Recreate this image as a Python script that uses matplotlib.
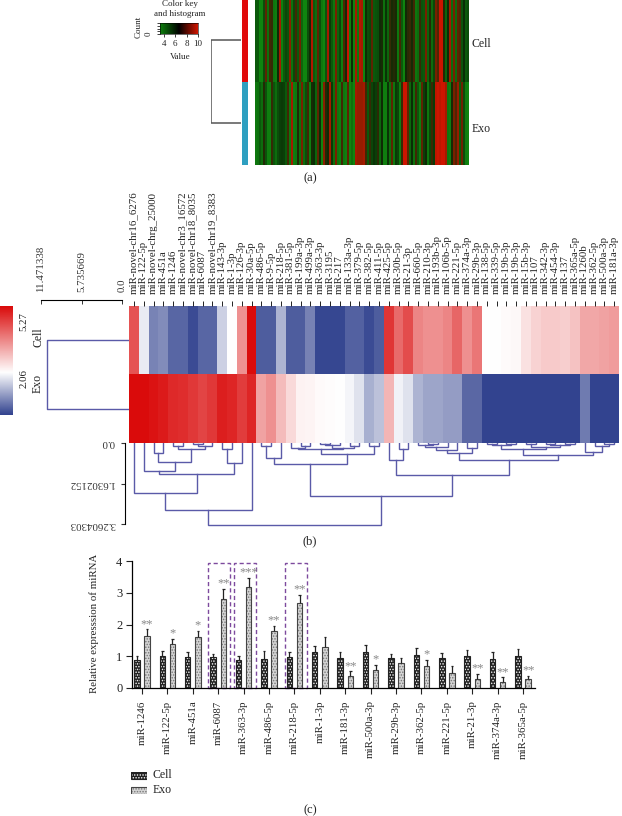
import numpy as np
import matplotlib
matplotlib.use("Agg")
import matplotlib.pyplot as plt
from matplotlib.colors import LinearSegmentedColormap, TwoSlopeNorm
from matplotlib.patches import Rectangle

plt.rcParams['font.family'] = ['Liberation Serif', 'DejaVu Serif']
plt.rcParams['hatch.linewidth'] = 0.7

cell_a = [5.0,5.0,3.6,3.6,5.4,8.0,4.2,7.6,7.4,4.0,
          3.8,6.6,9.0,3.8,5.0,5.6,5.2,8.6,4.2,5.6,
          7.6,5.0,8.2,4.6,3.6,3.6,5.4,6.6,9.2,5.0,
          4.4,8.0,5.4,4.0,3.6,5.2,9.0,6.0,5.0,4.0,
          8.4,4.6,5.6,3.8,7.8,6.8,9.6,3.8,6.4,3.6,
          9.0,4.0,9.2,9.0,3.6,6.4,5.4,5.6,8.0,5.0,
          5.2,5.4,6.6,6.8,4.2,6.2,4.6,7.4,6.8,7.0,
          6.8,4.0,7.6,5.0,3.6,6.6,7.2,7.4,6.8,7.6,
          4.0,4.4,7.4,5.2,5.0,8.4,4.6,7.0,4.4,5.6,
          8.4,7.8,9.6,9.6,7.0,4.6,6.6,9.0,4.4,8.4,
          4.4,8.0,7.8,5.2,6.4,5.0,5.4]
exo_a = [4.0,4.2,5.0,4.4,7.0,5.2,3.8,3.8,7.4,5.2,
         4.4,5.4,5.8,6.0,5.8,5.0,7.6,4.0,9.0,3.8,
         4.0,7.0,4.2,8.4,4.4,5.4,7.6,3.8,6.8,6.4,
         4.6,8.0,6.4,3.6,8.6,7.0,6.6,9.0,6.0,4.2,
         8.4,4.0,3.8,7.6,4.0,3.8,8.0,3.6,4.2,3.6,
         9.0,8.8,8.8,8.8,9.0,7.6,5.0,7.4,5.6,6.2,
         5.8,7.2,4.6,6.6,3.8,3.8,6.2,4.2,8.0,4.0,
         6.0,5.6,3.8,7.4,9.6,9.6,8.0,4.6,6.4,4.2,
         7.6,5.0,3.8,8.0,5.8,6.6,4.0,5.6,7.4,6.0,
         9.4,9.6,9.4,9.8,9.6,9.0,4.0,3.8,6.8,8.4,
         7.8,8.8,5.0,8.2,5.4,3.8,3.6]

# panel b
mirna_b = ['miR-novel-chr16_6276','miR-122-5p','miR-novel-chrg_25000','miR-451a','miR-1246',
           'miR-novel-chr3_16572','miR-novel-chr18_8035','miR-6087','miR-novel-chr19_8383','miR-143-3p',
           'miR-1-3p','miR-126-3p','miR-30a-5p','miR-486-5p','miR-9-5p','miR-218-5p','miR-381-5p',
           'miR-199a-3p','miR-499a-3p','miR-363-3p','miR-3195','miR-217','miR-133a-3p','miR-379-5p',
           'miR-382-5p','miR-411-5p','miR-425-5p','miR-30b-5p','miR-21-3p','miR-660-5p','miR-210-3p',
           'miR-193b-3p','miR-106b-5p','miR-221-5p','miR-374a-3p','miR-29b-3p','miR-138-5p','miR-339-5p',
           'miR-19b-3p','miR-19b-3p','miR-15b-3p','miR-107','miR-342-3p','miR-454-3p','miR-137',
           'miR-365a-5p','miR-1260b','miR-362-5p','miR-500a-3p','miR-181a-3p']
cell_b = [4.3,1.85,.72,.82,.4,.4,.1,.4,.4,1.55,2.06,3.5,5.27,.3,.3,1.25,.3,.3,.7,.05,
          .05,.05,.35,.35,.1,.3,4.7,4.0,4.4,3.65,3.5,3.5,3.65,4.05,3.5,3.85,2.06,2.06,2.12,2.16,
          2.45,2.65,2.76,2.76,2.7,2.86,3.2,3.2,3.28,3.34]
exo_b = [5.27,5.27,5.15,5.05,4.85,4.8,4.65,4.5,4.65,5.0,4.9,4.6,4.9,3.28,3.5,2.96,2.54,2.22,2.19,2.12,
         2.09,2.06,1.96,1.75,1.2,1.4,3.02,1.92,1.75,1.24,1.09,1.09,.99,.99,.41,.41,0,0,0,0,
         0,0,0,0,0,0,.62,0,0,0]
# column tree: left, right, height (ids from 50 up are earlier merges)
merges_b = [(2,3,.39),(4,5,.134),(6,7,.054),(52,8,.134),(51,53,.228),(50,54,.75),(1,55,1.114),
            (9,10,.24),(57,11,.79),(56,58,1.26),(0,59,2.0),(60,12,2.68),(13,14,.134),(62,15,.59),
            (17,18,.12),(16,64,.215),(19,20,.054),(66,21,.07),(22,23,.12),(67,68,.2),(65,69,.255),
            (24,25,.12),(70,71,.456),(63,72,.86),(27,28,.228),(26,74,.67),(30,31,.03),(29,76,.094),
            (77,32,.16),(78,33,.295),(34,35,.19),(79,80,.40),(36,37,.03),(38,39,.03),(82,83,.07),
            (40,41,.03),(42,43,.03),(44,45,.03),(86,87,.094),(85,88,.16),(84,89,.255),(48,49,.054),
            (47,91,.134),(46,92,.36),(90,93,.5),(81,94,.70),(75,95,1.275),(73,96,2.13),(61,97,3.28)]
row_merge_b = 10.62

# panel c
mirna_c = ['miR-1246','miR-122-5p','miR-451a','miR-6087','miR-363-3p','miR-486-5p','miR-218-5p','miR-1-3p',
           'miR-181-3p','miR-500a-3p','miR-29b-3p','miR-362-5p','miR-221-5p','miR-21-3p','miR-374a-3p','miR-365a-5p']
cell_c = [.89,1.01,.97,.97,.88,.92,.98,1.12,.94,1.12,.93,1.03,.94,1.0,.91,1.0]
cell_top = [1.0,1.15,1.13,1.07,1.0,1.15,1.14,1.33,1.13,1.36,1.06,1.25,1.1,1.21,1.13,1.22]
exo_c = [1.63,1.39,1.6,2.8,3.18,1.79,2.68,1.3,.39,.58,.78,.69,.47,.28,.19,.28]
exo_top = [1.85,1.55,1.8,3.13,3.48,1.95,2.93,1.6,.52,.72,.94,.88,.69,.44,.34,.39]
stars_c = ['**','*','*','**','***','**','**','','**','*','','*','','**','**','**']
boxed_c = [3,4,6]

W, H = 622, 816
fig = plt.figure(figsize=(W/100, H/100), dpi=100)


def px_axes(l, t, r, b, **kw):
    return fig.add_axes([l/W, 1-b/H, (r-l)/W, (b-t)/H], **kw)


def px_text(x, y, s, size=8, rot=0, ha='center', va='center', color='#222222'):
    fig.text(x/W, 1-y/H, s, fontsize=size, rotation=rot, ha=ha, va=va, color=color)


# ---- panel a
gbr = LinearSegmentedColormap.from_list('gbr', ['#0d800d', '#000000', '#d01500'])
# the map itself is mostly green, thin streaks come out brownish
gbr_map = LinearSegmentedColormap.from_list('gbr_map', [(0, '#108a10'), (.24, '#0c5a0c'), (.47, '#0a2a05'),
                                                        (.62, '#3a2a05'), (.77, '#802000'), (.94, '#cc1500'),
                                                        (1, '#d01500')])
ax = px_axes(255, 0, 469, 165)
ax.imshow([cell_a, exo_a], aspect='auto', cmap=gbr_map, vmin=3.4, vmax=10, interpolation='nearest')
ax.axis('off')

ax = px_axes(242, 0, 248, 165)
ax.imshow([[0], [1]], aspect='auto', cmap=LinearSegmentedColormap.from_list('s', ['#e00a0a', '#2e9fc0']))
ax.axis('off')

ax = px_axes(211, 0, 241, 165)
ax.plot([1, 0, 0, 1], [.245, .245, .745, .745], color='#555555', lw=1.1)
ax.set_xlim(0, 1)
ax.set_ylim(1, 0)
ax.axis('off')

ax = px_axes(160, 23, 198, 34)
ax.imshow([np.linspace(3.4, 10, 128)], aspect='auto', cmap=gbr, extent=(3.3, 10, 0, 1))
ax.set_xticks([4, 6, 8, 10])
ax.set_yticks([0, .25, .5, .75, 1], [])
ax.tick_params(length=2, width=.6, labelsize=6.5, pad=2, colors='#222222')
for s in ax.spines.values():
    s.set_linewidth(.4)
px_text(180, 4, 'Color key', 6.5)
px_text(180, 14, 'and histogram', 6.5)
px_text(180, 57, 'Value', 6.5)
px_text(139, 27, 'Count', 6.5, rot=90)
px_text(149, 34, '0', 6.5, rot=90)
px_text(472, 44, 'Cell', 8.5, ha='left')
px_text(472, 129, 'Exo', 8.5, ha='left')
px_text(310, 178, '(a)', 9)

# ---- panel b
bwr = LinearSegmentedColormap.from_list('bwr2', ['#32438f', '#ffffff', '#da0b0b'])
norm = TwoSlopeNorm(vmin=0, vcenter=2.06, vmax=5.27)
ax = px_axes(129, 306, 619, 443)
ax.imshow([cell_b, exo_b], aspect='auto', cmap=bwr, norm=norm, interpolation='nearest',
          extent=(0, 50, 2, 0))
ax.set_xticks(np.arange(50)+.5, mirna_b, rotation=90)
ax.xaxis.tick_top()
ax.set_yticks([])
ax.tick_params(axis='x', length=3.6, width=.7, labelsize=7.8, pad=5, colors='#222222')
for s in ax.spines.values():
    s.set_visible(False)

ax = px_axes(0, 306, 12, 415)
ax.imshow(np.linspace(5.27, 0, 256)[:, None], aspect='auto', cmap=bwr, norm=norm)
ax.axis('off')
px_text(24, 322, '5.27', 7.8, rot=90)
px_text(24, 378, '2.06', 7.8, rot=90)
px_text(39, 337, 'Cell', 8.5, rot=90)
px_text(38, 383, 'Exo', 8.5, rot=90)

# row tree and its scale
tree_col = '#5a5aa8'
ax = px_axes(41, 306, 129, 443)
ax.plot([-.99, row_merge_b, row_merge_b, -.99], [.5, .5, 1.5, 1.5], color=tree_col, lw=1)
ax.set_xlim(11.471338, -.99)
ax.set_ylim(2, 0)
ax.axis('off')

ax = px_axes(41, 300, 122, 306)
ax.set_xlim(11.471338, 0)
ax.set_xticks([11.471338, 5.735669, 0], ['11.471338', '5.735669', '0.0'], rotation=90)
ax.xaxis.tick_top()
ax.set_yticks([])
ax.tick_params(axis='x', direction='in', length=3, width=.7, labelsize=7.8, pad=6, colors='#333333')
for k in ['left', 'right', 'bottom']:
    ax.spines[k].set_visible(False)
ax.spines['top'].set_linewidth(.8)
ax.patch.set_alpha(0)

# column tree
ax = px_axes(129, 443, 619, 530)
nodes = {i: (i+.5, 0) for i in range(50)}
for n, (a, b, h) in enumerate(merges_b):
    xa, ya = nodes[a]
    xb, yb = nodes[b]
    ax.plot([xa, xa, xb, xb], [ya, h, h, yb], color=tree_col, lw=1, solid_joinstyle='miter')
    nodes[50+n] = ((xa+xb)/2, h)
# set_position resets the ticks, so it has to come before the tick labels
ax.spines['left'].set_position(('outward', 3))
ax.set_xlim(0, 50)
ax.set_ylim(3.5, 0)
ax.set_xticks([])
ax.set_yticks([0, 1.6302152, 3.2604303])
ax.set_yticklabels(['0.0', '1.6302152', '3.2604303'], rotation=180, va='center')
ax.tick_params(axis='y', length=3, width=.8, labelsize=7.8, pad=4, colors='#333333')
for k in ['top', 'right', 'bottom']:
    ax.spines[k].set_visible(False)
ax.spines['left'].set_bounds(0, 3.2604303)
ax.spines['left'].set_linewidth(.8)
ax.patch.set_alpha(0)
px_text(310, 541, '(b)', 9)

# ---- panel c
ax = px_axes(132, 561, 535, 688)
x = np.arange(len(mirna_c))
off, bw = .2, .216
ax.bar(x-off, cell_c, bw, color='#222222', edgecolor='white', hatch='......', lw=0)
ax.bar(x-off, cell_c, bw, fill=False, edgecolor='#222222', lw=.8)
ax.bar(x+off, exo_c, bw, color='#d4d4d4', edgecolor='#777777', hatch='......', lw=0)
ax.bar(x+off, exo_c, bw, fill=False, edgecolor='#444444', lw=.8)
ax.vlines(x-off, cell_c, cell_top, color='#222222', lw=.9)
ax.vlines(x+off, exo_c, exo_top, color='#222222', lw=.9)
ax.hlines(cell_top, x-off-.05, x-off+.05, color='#222222', lw=.9)
ax.hlines(exo_top, x+off-.05, x+off+.05, color='#222222', lw=.9)
for i, s in enumerate(stars_c):
    if s:
        ax.text(i+off, exo_top[i]-.02, s, ha='center', va='bottom', fontsize=9, color='#888888', linespacing=0)
for i in boxed_c:
    ax.add_patch(Rectangle((i-.39, 0), .87, 3.95, fill=False, edgecolor='#7d4a9e', lw=1, ls=(0, (3, 2)), clip_on=False))
ax.set_xlim(-.394, 15.47)
ax.set_ylim(0, 4)
ax.set_xticks(x, mirna_c, rotation=90)
ax.set_yticks([0, 1, 2, 3, 4])
ax.tick_params(axis='x', length=4, width=.8, labelsize=7.8, pad=5, colors='#222222')
ax.tick_params(axis='y', length=4, width=.8, labelsize=9, pad=3, colors='#222222')
for k in ['top', 'right']:
    ax.spines[k].set_visible(False)
for k in ['left', 'bottom']:
    ax.spines[k].set_linewidth(.9)
ax.patch.set_alpha(0)
px_text(94, 623, 'Relative expresssion of miRNA', 7.8, rot=90)

# legend by hand, the reference has it bottom left outside the axes
ax = px_axes(131, 772, 147, 794)
ax.add_patch(Rectangle((0, .68), 1, .32, facecolor='#222222', edgecolor='white', hatch='......', lw=0))
ax.add_patch(Rectangle((0, .68), 1, .32, fill=False, edgecolor='#222222', lw=.8))
ax.add_patch(Rectangle((0, 0), 1, .32, facecolor='#d4d4d4', edgecolor='#777777', hatch='......', lw=0))
ax.add_patch(Rectangle((0, 0), 1, .32, fill=False, edgecolor='#444444', lw=.8))
ax.set_xlim(0, 1)
ax.set_ylim(0, 1)
ax.axis('off')
px_text(152.7, 775.5, 'Cell', 8.5, ha='left')
px_text(152.7, 790, 'Exo', 8.5, ha='left')
px_text(310, 810, '(c)', 9)

fig.savefig('out.png', dpi=100)
